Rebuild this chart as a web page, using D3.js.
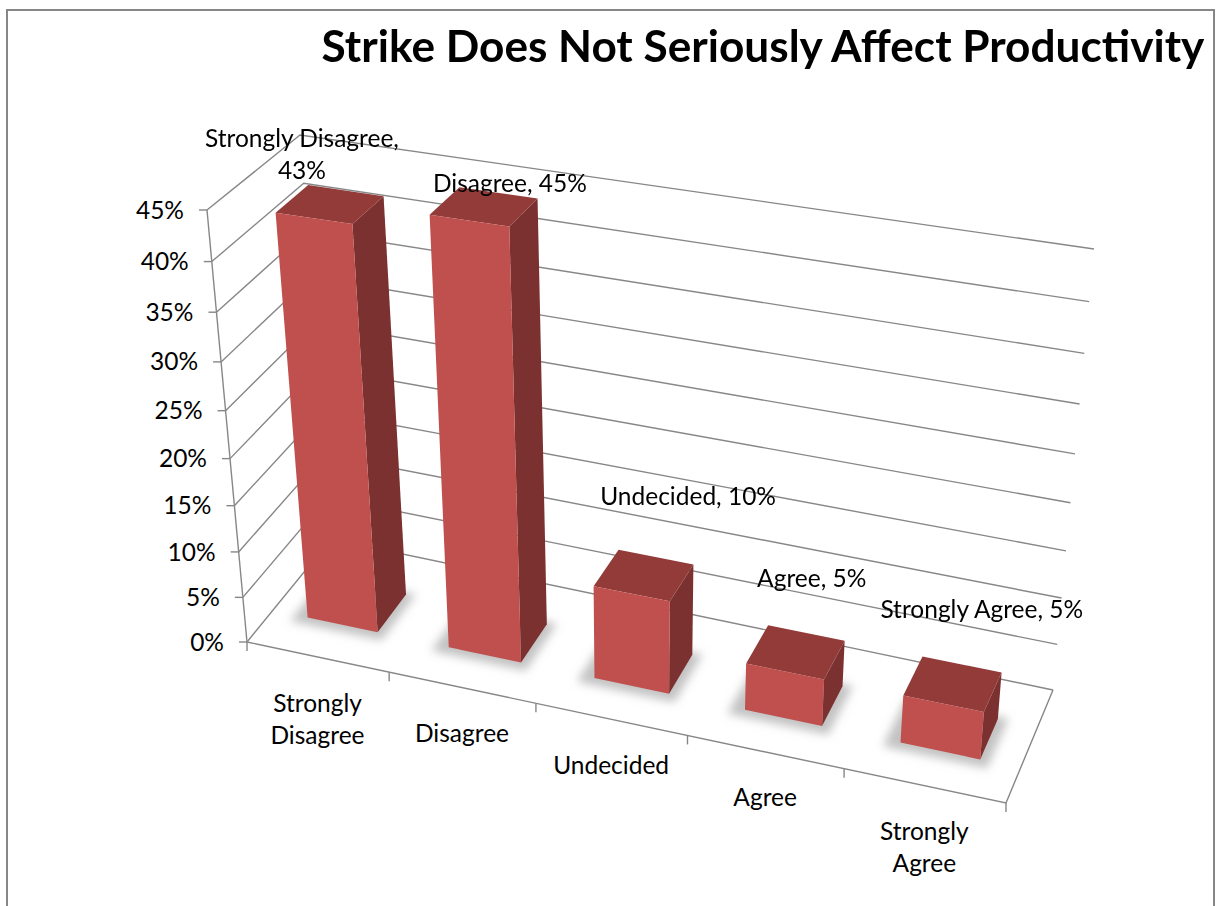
<!DOCTYPE html>
<html>
<head>
<meta charset="utf-8">
<script src="https://cdn.jsdelivr.net/npm/d3@7"></script>
<style>
  html, body { margin: 0; padding: 0; background: #ffffff; }
  svg { display: block; }
</style>
</head>
<body>
<svg id="chart" width="1216" height="906"></svg>
<script>
// ---- data ----
const categories = ["Strongly Disagree", "Disagree", "Undecided", "Agree", "Strongly Agree"];
const values = [0.43, 0.45, 0.10, 0.05, 0.05];
const tickValues = [0, 0.05, 0.10, 0.15, 0.20, 0.25, 0.30, 0.35, 0.40, 0.45];
const tickLabels = ["0%", "5%", "10%", "15%", "20%", "25%", "30%", "35%", "40%", "45%"];
const axisLabelLines = [["Strongly", "Disagree"], ["Disagree"], ["Undecided"], ["Agree"], ["Strongly", "Agree"]];
const chartTitle = "Strike Does Not Seriously Affect Productivity";

// ---- layout ----
const W = 1216, H = 906;
const svg = d3.select("#chart");
const fontFamily = "Lato, 'Open Sans', 'Noto Sans', sans-serif";
const lineGap = 32;

// Screen positions of the 3D plot box corners, indexed [x][z][y]
// x: 0 = left, 1 = right; z: 0 = front, 1 = back; y: 0 = floor, 1 = top
const box = [
  [ [[247, 642], [207, 210]], [[331, 539], [300, 135]] ],
  [ [[1006, 803], [1045, 332]], [[1053, 690], [1094, 249]] ]
];
const kPersp = -0.078;               // foreshortening along the category and value directions
const persp = t => t * (1 + kPersp) / (1 + kPersp * t);
const lerp = (a, b, t) => [a[0] + (b[0] - a[0]) * t, a[1] + (b[1] - a[1]) * t];

function project(X, Z, Y) {
  const u = persp(X), v = persp(Y), w = Z;
  const c = (i, j) => lerp(box[i][j][0], box[i][j][1], v);
  const front = lerp(c(0, 0), c(1, 0), u);
  const back = lerp(c(0, 1), c(1, 1), u);
  return lerp(front, back, w);
}

const x = d3.scaleBand().domain(categories).range([0, 1]).paddingInner(0.5).paddingOuter(0.25);
const y = d3.scaleLinear().domain([0, 0.45]).range([0, 1]);
const zFront = 0.31, zBack = 0.67;

const line = d3.line();
const poly = pts => line(pts) + "Z";

// frame
svg.append("rect").attr("x", 0).attr("y", 0).attr("width", W).attr("height", H).attr("fill", "#ffffff");
svg.append("rect").attr("x", 7).attr("y", 10).attr("width", 1207).attr("height", 910)
  .attr("fill", "none").attr("stroke", "#878787").attr("stroke-width", 2);

const defs = svg.append("defs");
defs.append("filter").attr("id", "soft").attr("x", "-20%").attr("y", "-20%").attr("width", "140%").attr("height", "140%")
  .append("feGaussianBlur").attr("stdDeviation", 5);

const gridColor = "#878787";
const grid = svg.append("g").attr("stroke", gridColor).attr("stroke-width", 1.4).attr("fill", "none");

// side wall and back wall gridlines
tickValues.forEach(t => {
  const yy = y(t);
  grid.append("path").attr("d", line([project(0, 0, yy), project(0, 1, yy), project(1, 1, yy)]));
});
// floor: front edge (category axis) and right edge
grid.append("path").attr("d", line([project(0, 0, 0), project(1, 0, 0), project(1, 1, 0)]));
// value axis
grid.append("path").attr("d", line([project(0, 0, 0), project(0, 0, 1)]));

// value axis ticks and labels
const yAxis = svg.append("g");
tickValues.forEach((t, i) => {
  const p = project(0, 0, y(t));
  yAxis.append("line").attr("x1", p[0] - 8).attr("x2", p[0]).attr("y1", p[1]).attr("y2", p[1])
    .attr("stroke", gridColor).attr("stroke-width", 1.4);
  yAxis.append("text").attr("x", p[0] - 23).attr("y", p[1]).attr("dy", "0.35em")
    .attr("text-anchor", "end").attr("class", "lbl").text(tickLabels[i]);
});

// category axis ticks at band boundaries
d3.range(categories.length + 1).map(i => Math.min(i * x.step(), 1)).forEach(b => {
  const p = project(b, 0, 0);
  svg.append("line").attr("x1", p[0]).attr("x2", p[0]).attr("y1", p[1]).attr("y2", p[1] + 9)
    .attr("stroke", gridColor).attr("stroke-width", 1.4);
});

// category labels
categories.forEach((c, i) => {
  const p = project(x(c) + x.bandwidth() / 2, 0, 0);
  const t = svg.append("text").attr("class", "lbl").attr("text-anchor", "middle").attr("y", p[1] + 46);
  axisLabelLines[i].forEach((s, k) => {
    t.append("tspan").attr("x", p[0]).attr("dy", k === 0 ? "0.35em" : lineGap + "px").text(s);
  });
});

// bar shadows on the floor
const shadows = svg.append("g").attr("filter", "url(#soft)");
categories.forEach(c => {
  const x0 = x(c) - 0.018, x1 = x(c) + x.bandwidth() + 0.012;
  const z0 = zFront - 0.06, z1 = zBack + 0.02;
  shadows.append("path")
    .attr("d", poly([project(x0, z0, 0), project(x1, z0, 0), project(x1, z1, 0), project(x0, z1, 0)]))
    .attr("fill", "#8f8f8f").attr("opacity", 0.55);
});

// bars
const bars = svg.append("g");
categories.forEach((c, i) => {
  const x0 = x(c), x1 = x(c) + x.bandwidth(), v = y(values[i]);
  const g = bars.append("g");
  g.append("path").attr("fill", "#7b3130")
    .attr("d", poly([project(x1, zFront, 0), project(x1, zBack, 0), project(x1, zBack, v), project(x1, zFront, v)]));
  g.append("path").attr("fill", "#923b38")
    .attr("d", poly([project(x0, zFront, v), project(x1, zFront, v), project(x1, zBack, v), project(x0, zBack, v)]));
  g.append("path").attr("fill", "#c0504d")
    .attr("d", poly([project(x0, zFront, 0), project(x1, zFront, 0), project(x1, zFront, v), project(x0, zFront, v)]));
});

// data labels, anchored on the back wall at each bar's value
const pct = d3.format(".0%");
const labelNudge = [[-73, -27], [-15, 16], [10, -27], [-14, -19], [3, -19]];
const labelWrap = [true, false, false, false, false];
categories.forEach((c, i) => {
  const p = project(x(c) + x.bandwidth() / 2, 1, y(values[i]));
  const cx = p[0] + labelNudge[i][0], cy = p[1] + labelNudge[i][1];
  const lines = labelWrap[i] ? [c + ",", pct(values[i])] : [c + ", " + pct(values[i])];
  const t = svg.append("text").attr("class", "lbl").attr("text-anchor", "middle").attr("y", cy);
  lines.forEach((s, k) => {
    t.append("tspan").attr("x", cx).attr("dy", k === 0 ? "0.35em" : lineGap + "px").text(s);
  });
});

// title
svg.append("text").attr("id", "title").attr("x", 763).attr("y", 62)
  .attr("text-anchor", "middle").attr("font-weight", "bold").text(chartTitle);

// fonts: size the label face so that its widths follow the layout
const labels = svg.selectAll("text.lbl").attr("font-family", fontFamily).attr("fill", "#000");
const probe = svg.append("text").attr("font-family", fontFamily).attr("font-size", 26).text("Strongly Disagree,");
const labelSize = 26 * 194 / probe.node().getComputedTextLength();
probe.remove();
labels.attr("font-size", labelSize);

const titleEl = svg.select("#title").attr("font-family", fontFamily).attr("font-size", 44).attr("fill", "#000");
const titleSize = 44 * 883 / titleEl.node().getComputedTextLength();
titleEl.attr("font-size", titleSize);
</script>
</body>
</html>
